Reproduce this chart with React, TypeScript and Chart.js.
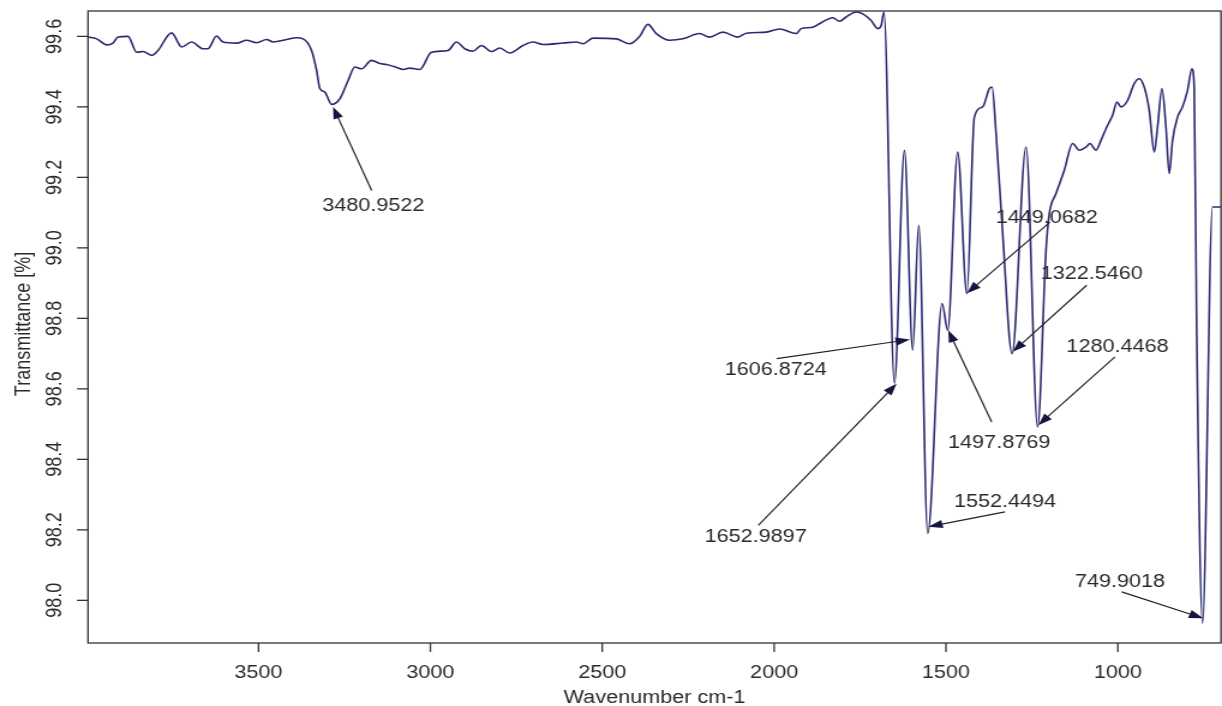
import React, { useEffect, useRef } from 'react';
import { Chart, registerables } from 'chart.js';

Chart.register(...registerables);

// ---- data ----
const WAVENUMBER = [
  3996, 3970.7, 3941.6, 3923.3, 3908.8, 3879.7, 3854.4, 3836.1, 3810.8, 3792.5,
  3752.7, 3723.6, 3694.5, 3661.7, 3647.2, 3621.9, 3603.6, 3563.7, 3534.7, 3505.6,
  3476.5, 3457.3, 3418.4, 3389.3, 3370.1, 3345.7, 3331.2, 3321.6, 3307, 3287.6,
  3263.4, 3239.3, 3219.8, 3200.4, 3171.3, 3147.2, 3127.7, 3098.6, 3079.4, 3059.9,
  3030.9, 2996.9, 2948.6, 2924.2, 2900.1, 2875.9, 2851.5, 2822.4, 2798.3, 2769.2,
  2730.6, 2701.5, 2672.4, 2614.3, 2575.3, 2556.2, 2527.1, 2459.1, 2420.4, 2391.3,
  2367.2, 2342.8, 2304.1, 2265.5, 2216.9, 2187.8, 2149.2, 2105.6, 2081.2, 2023,
  1984.4, 1935.8, 1921.3, 1887.5, 1868.1, 1829.4, 1809.9, 1790.5, 1761.4, 1742.2,
  1717.8, 1698.6, 1688.7, 1680.6, 1650, 1621, 1596.8, 1579.4, 1553.2, 1511.4,
  1495.1, 1466, 1439.3, 1417.5, 1393.4, 1373.9, 1366, 1354.4, 1335.2, 1307.9,
  1267.2, 1233.5, 1209.1, 1199.5, 1180, 1155.9, 1131.7, 1112.3, 1092.8, 1081.2,
  1063.7, 1049.2, 1034.6, 1025.1, 1015.4, 1002.7, 991.1, 971.8, 952.4, 937.8,
  923.3, 908.8, 894.2, 884.6, 871.8, 860.2, 850.6, 841, 826.5, 812,
  797.4, 784.6, 778, 770.8, 753.8, 724.7, 700,
];

const TRANSMITTANCE = [
  99.598, 99.593, 99.576, 99.581, 99.598, 99.600, 99.555, 99.557, 99.546, 99.560,
  99.610, 99.570, 99.584, 99.565, 99.565, 99.601, 99.584, 99.581, 99.589, 99.582,
  99.591, 99.584, 99.591, 99.596, 99.593, 99.560, 99.504, 99.452, 99.442, 99.407,
  99.423, 99.475, 99.513, 99.508, 99.532, 99.523, 99.520, 99.512, 99.506, 99.510,
  99.506, 99.555, 99.560, 99.584, 99.565, 99.558, 99.574, 99.557, 99.567, 99.553,
  99.574, 99.584, 99.577, 99.581, 99.584, 99.579, 99.595, 99.593, 99.579, 99.600,
  99.634, 99.608, 99.589, 99.593, 99.608, 99.598, 99.612, 99.598, 99.609, 99.612,
  99.621, 99.608, 99.622, 99.626, 99.636, 99.653, 99.643, 99.655, 99.669, 99.664,
  99.645, 99.622, 99.631, 99.669, 98.616, 99.277, 98.710, 99.064, 98.190, 98.842,
  98.766, 99.272, 98.870, 99.371, 99.400, 99.452, 99.456, 99.324, 99.041, 98.700,
  99.286, 98.492, 98.993, 99.097, 99.154, 99.220, 99.296, 99.277, 99.286, 99.296,
  99.277, 99.305, 99.338, 99.357, 99.376, 99.414, 99.400, 99.418, 99.466, 99.480,
  99.456, 99.390, 99.272, 99.343, 99.452, 99.343, 99.211, 99.305, 99.371, 99.400,
  99.447, 99.508, 99.456, 98.766, 97.935, 99.116, 99.116,
];

const X_TICKS = [3500, 3000, 2500, 2000, 1500, 1000];
const Y_TICKS = [98.0, 98.2, 98.4, 98.6, 98.8, 99.0, 99.2, 99.4, 99.6];
const X_MIN = 700;
const X_MAX = 3996;
const Y_MIN = 97.879;
const Y_MAX = 99.672;

const X_TITLE = 'Wavenumber cm-1';
const Y_TITLE = 'Transmittance [%]';

// peak annotations (data units)
const PEAK_LABELS = [
  '3480.9522', '1449.0682', '1322.5460', '1280.4468', '1497.8769',
  '1552.4494', '749.9018', '1606.8724', '1652.9897',
];
const PEAK_TIP_X = [3283, 1439, 1306, 1231.6, 1493.4, 1551.6, 751.6, 1604.8, 1643.5];
const PEAK_TIP_Y = [99.40, 98.871, 98.705, 98.497, 98.766, 98.209, 97.949, 98.740, 98.615];
const PEAK_TAIL_X = [3170.7, 1197.5, 1090.8, 1008.5, 1367.1, 1328.4, 989, 1992.6, 2046.1];
const PEAK_TAIL_Y = [99.163, 99.073, 98.894, 98.691, 98.506, 98.251, 98.024, 98.686, 98.213];
const PEAK_TEXT_X = [3166, 1207.1, 1076.2, 1001.2, 1345.3, 1328.4, 994, 1995.2, 2053.4];
const PEAK_TEXT_Y = [99.123, 99.088, 98.929, 98.724, 98.450, 98.282, 98.056, 98.658, 98.185];

// ---- layout (canvas drawn narrower then stretched horizontally) ----
const DISPLAY_W = 1222;
const DISPLAY_H = 706;
const CANVAS_W = 1018;
const CANVAS_H = 706;
const S = DISPLAY_W / CANVAS_W;

const FONT = '18px "Liberation Sans", Arial, Helvetica, sans-serif';
const TEXT_COLOR = '#2a2a2a';
const AXIS_COLOR = '#333333';
const LINE_COLOR = '#2a2a70';
const ARROW_COLOR = '#222222';
const HEAD_COLOR = '#15153f';

const decorPlugin = {
  id: 'decor',
  afterDraw(chart: any) {
    const { ctx, chartArea: a, scales } = chart;
    const xs = scales.x;
    const ys = scales.y;
    ctx.save();

    // box
    ctx.strokeStyle = AXIS_COLOR;
    ctx.lineWidth = 1.3;
    ctx.strokeRect(a.left, a.top, a.right - a.left, a.bottom - a.top);

    ctx.font = FONT;
    ctx.fillStyle = TEXT_COLOR;

    // y ticks (rotated labels)
    const yTickLen = 11 / S;
    for (const v of Y_TICKS) {
      const py = ys.getPixelForValue(v);
      ctx.beginPath();
      ctx.moveTo(a.left - yTickLen, py);
      ctx.lineTo(a.left, py);
      ctx.stroke();
      ctx.save();
      ctx.translate(53 / S + 6.4, py);
      ctx.rotate(-Math.PI / 2);
      ctx.textAlign = 'center';
      ctx.textBaseline = 'alphabetic';
      ctx.fillText(v.toFixed(1), 0, 0);
      ctx.restore();
    }

    // x ticks
    for (const v of X_TICKS) {
      const px = xs.getPixelForValue(v);
      ctx.beginPath();
      ctx.moveTo(px, a.bottom);
      ctx.lineTo(px, a.bottom + 9);
      ctx.stroke();
      ctx.textAlign = 'center';
      ctx.textBaseline = 'alphabetic';
      ctx.fillText(String(v), px, 677.5);
    }

    // axis titles
    ctx.textAlign = 'center';
    ctx.textBaseline = 'alphabetic';
    ctx.fillText(X_TITLE, (a.left + a.right) / 2, 702.5);
    ctx.save();
    ctx.translate(22 / S + 6.4, (a.top + a.bottom) / 2 - 3);
    ctx.rotate(-Math.PI / 2);
    ctx.fillText(Y_TITLE, 0, 0);
    ctx.restore();

    // annotations
    for (let i = 0; i < PEAK_LABELS.length; i++) {
      const tx = xs.getPixelForValue(PEAK_TIP_X[i]);
      const ty = ys.getPixelForValue(PEAK_TIP_Y[i]);
      const sx = xs.getPixelForValue(PEAK_TAIL_X[i]);
      const sy = ys.getPixelForValue(PEAK_TAIL_Y[i]);
      const ang = Math.atan2(ty - sy, tx - sx);
      const hl = 12;
      const hw = 4.2;
      ctx.strokeStyle = ARROW_COLOR;
      ctx.lineWidth = 1.2;
      ctx.beginPath();
      ctx.moveTo(sx, sy);
      ctx.lineTo(tx - Math.cos(ang) * hl * 0.6, ty - Math.sin(ang) * hl * 0.6);
      ctx.stroke();
      ctx.fillStyle = HEAD_COLOR;
      ctx.beginPath();
      ctx.moveTo(tx, ty);
      const bx = tx - Math.cos(ang) * hl;
      const by = ty - Math.sin(ang) * hl;
      ctx.lineTo(bx + Math.sin(ang) * hw, by - Math.cos(ang) * hw);
      ctx.lineTo(bx - Math.sin(ang) * hw, by + Math.cos(ang) * hw);
      ctx.closePath();
      ctx.fill();

      ctx.fillStyle = TEXT_COLOR;
      ctx.textAlign = 'center';
      ctx.textBaseline = 'alphabetic';
      const lx = xs.getPixelForValue(PEAK_TEXT_X[i]);
      const ly = ys.getPixelForValue(PEAK_TEXT_Y[i]);
      ctx.fillText(PEAK_LABELS[i], lx, ly + 6.4);
    }

    ctx.restore();
  },
};

export default function App() {
  const canvasRef = useRef<HTMLCanvasElement | null>(null);

  useEffect(() => {
    const canvas = canvasRef.current;
    if (!canvas) return;
    const points = WAVENUMBER.map((w, i) => ({ x: w, y: TRANSMITTANCE[i] }));
    const chart = new Chart(canvas, {
      type: 'line',
      data: {
        datasets: [
          {
            label: 'Spectrum',
            data: points,
            borderColor: LINE_COLOR,
            borderWidth: 1.6,
            pointRadius: 0,
            fill: false,
            cubicInterpolationMode: 'monotone',
          },
        ],
      },
      options: {
        responsive: false,
        animation: false,
        devicePixelRatio: 1,
        layout: {
          padding: {
            left: 88 / S,
            right: CANVAS_W - 1221 / S,
            top: 11,
            bottom: CANVAS_H - 643,
          },
        },
        scales: {
          x: { type: 'linear', reverse: true, min: X_MIN, max: X_MAX, display: false },
          y: { type: 'linear', min: Y_MIN, max: Y_MAX, display: false },
        },
        plugins: {
          legend: { display: false },
          tooltip: { enabled: false },
        },
        events: [],
      } as any,
      plugins: [decorPlugin],
    });
    return () => chart.destroy();
  }, []);

  return (
    <div style={{ position: 'absolute', left: 0, top: 0, width: DISPLAY_W, height: DISPLAY_H, background: '#fff' }}>
      <canvas
        ref={canvasRef}
        width={CANVAS_W}
        height={CANVAS_H}
        style={{ width: `${DISPLAY_W}px`, height: `${DISPLAY_H}px`, display: 'block' }}
      />
    </div>
  );
}
